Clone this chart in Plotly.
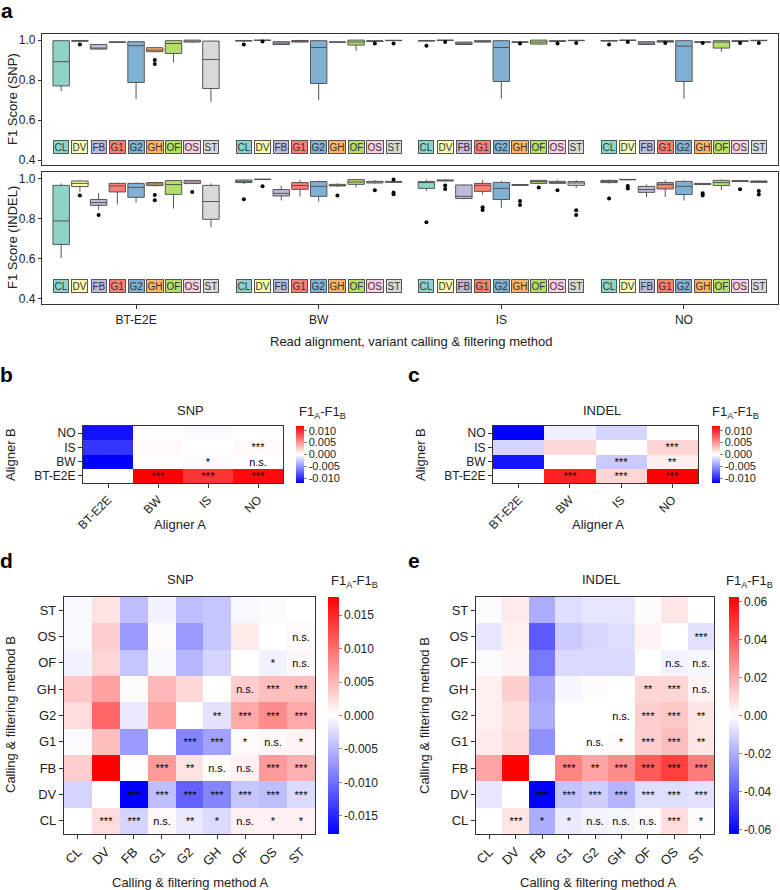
import plotly.graph_objects as go

W, H = 780, 890

methods = ["CL", "DV", "FB", "G1", "G2", "GH", "OF", "OS", "ST"]
colors = ["#8DD3C7", "#FFFFB3", "#BEBADA", "#FB8072", "#80B1D3",
          "#FDB462", "#B3DE69", "#FCCDE5", "#D9D9D9"]
groups = ["BT-E2E", "BW", "IS", "NO"]

# --- panel a: box stats, one row per method, columns = BT-E2E, BW, IS, NO
snp_lo = [[0.745, 0.993, 0.992, 0.993], [0.990, 0.997, 0.997, 0.997], [0.952, 0.976, 0.976, 0.976],
          [0.987, 0.988, 0.988, 0.988], [0.705, 0.700, 0.707, 0.707], [0.938, 0.987, 0.988, 0.988],
          [0.888, 0.945, 0.975, 0.942], [0.985, 0.990, 0.990, 0.990], [0.690, 0.995, 0.995, 0.995]]
snp_q1 = [[0.771, 0.995, 0.995, 0.995], [0.994, 0.998, 0.998, 0.998], [0.955, 0.978, 0.978, 0.978],
          [0.988, 0.990, 0.990, 0.990], [0.788, 0.783, 0.793, 0.793], [0.942, 0.989, 0.989, 0.989],
          [0.933, 0.975, 0.980, 0.960], [0.990, 0.993, 0.993, 0.993], [0.758, 0.997, 0.997, 0.997]]
snp_med = [[0.892, 0.997, 0.997, 0.997], [0.996, 0.999, 0.999, 0.999], [0.957, 0.985, 0.984, 0.985],
           [0.990, 0.995, 0.994, 0.994], [0.972, 0.963, 0.963, 0.970], [0.950, 0.990, 0.990, 0.990],
           [0.983, 0.990, 0.990, 0.990], [0.995, 0.995, 0.995, 0.995], [0.903, 0.998, 0.998, 0.998]]
snp_q3 = [[0.997, 0.998, 0.998, 0.998], [0.998, 1.000, 1.000, 1.000], [0.978, 0.992, 0.990, 0.992],
          [0.991, 0.998, 0.997, 0.997], [0.992, 0.997, 0.997, 0.997], [0.962, 0.991, 0.991, 0.991],
          [0.997, 1.000, 1.000, 0.997], [1.000, 0.997, 0.997, 0.997], [0.995, 0.999, 0.999, 0.999]]
snp_hi = [[0.998, 0.999, 0.999, 0.999], [0.999, 1.000, 1.000, 1.000], [0.980, 0.994, 0.992, 0.994],
          [0.992, 1.000, 0.999, 0.999], [0.995, 0.999, 0.999, 0.999], [0.965, 0.993, 0.993, 0.993],
          [1.000, 1.000, 1.000, 1.000], [1.000, 0.998, 0.998, 0.998], [0.997, 1.000, 1.000, 1.000]]
snp_out = [[[], [0.978], [0.972], [0.978]], [[0.978], [0.993], [0.990], [0.990]], [[], [], [], []],
           [[], [], [], [0.985]], [[], [], [], []], [[0.900, 0.880], [], [0.983], [0.985]],
           [[], [], [], []], [[], [0.983], [0.983], [0.985]], [[], [0.983], [0.985], [0.985]]]

indel_lo = [[0.603, 0.975, 0.940, 0.977], [0.935, 0.995, 0.987, 0.993], [0.845, 0.892, 0.898, 0.910],
            [0.873, 0.912, 0.922, 0.910], [0.882, 0.887, 0.855, 0.892], [0.962, 0.960, 0.965, 0.970],
            [0.852, 0.958, 0.975, 0.945], [0.975, 0.977, 0.975, 0.985], [0.758, 0.980, 0.955, 0.980]]
indel_q1 = [[0.672, 0.982, 0.953, 0.982], [0.962, 0.997, 0.990, 0.996], [0.868, 0.915, 0.902, 0.933],
            [0.935, 0.948, 0.938, 0.950], [0.908, 0.913, 0.897, 0.922], [0.967, 0.965, 0.968, 0.972],
            [0.923, 0.973, 0.978, 0.967], [0.977, 0.980, 0.978, 0.987], [0.798, 0.983, 0.968, 0.983]]
indel_med = [[0.790, 0.988, 0.982, 0.988], [0.978, 0.998, 0.993, 0.997], [0.882, 0.928, 0.913, 0.947],
             [0.965, 0.967, 0.968, 0.972], [0.958, 0.963, 0.953, 0.963], [0.975, 0.968, 0.970, 0.975],
             [0.972, 0.985, 0.987, 0.982], [0.985, 0.985, 0.985, 0.990], [0.887, 0.986, 0.980, 0.987]]
indel_q3 = [[0.968, 0.995, 0.987, 0.993], [0.990, 0.999, 0.995, 0.998], [0.897, 0.947, 0.970, 0.963],
            [0.978, 0.982, 0.978, 0.982], [0.978, 0.987, 0.983, 0.988], [0.982, 0.973, 0.972, 0.978],
            [0.992, 0.997, 0.993, 0.993], [0.993, 0.988, 0.988, 0.992], [0.968, 0.988, 0.987, 0.990]]
indel_hi = [[0.978, 0.997, 0.995, 0.997], [0.993, 1.000, 0.997, 0.999], [0.928, 0.967, 0.973, 0.972],
            [0.982, 0.995, 0.995, 0.993], [0.983, 0.992, 0.990, 0.993], [0.987, 0.978, 0.975, 0.980],
            [0.993, 0.998, 0.995, 0.998], [0.995, 0.995, 0.995, 0.995], [0.978, 0.990, 0.995, 0.993]]
indel_out = [[[], [0.898], [0.783], [0.902]], [[0.917], [0.963], [0.967, 0.950], [0.965, 0.952]],
             [[0.820], [], [], []], [[], [], [0.858, 0.845], []], [[], [], [], []],
             [[0.920, 0.893], [0.917], [0.890, 0.870], [0.928, 0.917]], [[], [], [0.957], []],
             [[0.935], [0.943], [0.943], [0.948]], [[], [0.998, 0.932, 0.923], [0.843, 0.820], [0.940, 0.922]]]

# --- panels b, c: aligner comparison (rows = aligner B bottom->top, cols = aligner A)
aligners = ["BT-E2E", "BW", "IS", "NO"]
b_z = [[0, 0.0120, 0.0095, 0.0115],
       [-0.0120, 0, -0.0003, 0.0000],
       [-0.0095, 0.0003, 0, 0.0003],
       [-0.0112, 0.0000, -0.0003, 0]]
b_sig = [["", "***", "***", "***"], ["", "", "*", "n.s."], ["", "", "", "***"], ["", "", "", ""]]
c_z = [[0, 0.0105, 0.0020, 0.0120],
       [-0.0110, 0, -0.0025, 0.0008],
       [-0.0020, 0.0018, 0, 0.0020],
       [-0.0120, -0.0008, -0.0020, 0]]
c_sig = [["", "***", "***", "***"], ["", "", "***", "**"], ["", "", "", "***"], ["", "", "", ""]]

# --- panels d, e: calling & filtering comparison (x 0.001), rows = method B bottom->top
d_z = [[0, 2.5, -3, 0.5, -1.5, -2.5, 1, 1, 1],
       [-3, 0, -17.7, -4.5, -11, -8.5, -4, -4.5, -2.5],
       [3.5, 17.7, 0, 7, 2, 0.3, 1, 7, 5.5],
       [-0.3, 4.5, -7, 0, -8.5, -6.5, 0.3, 0.5, 0.8],
       [2.5, 10.5, -1.5, 6.5, 0, -2, 6, 8, 6],
       [3.9, 6.5, 0.3, 5, 2.7, 0, 3.5, 4.5, 4.5],
       [-1, 3, -4, -0.5, -5, -3, 0, -1, 0.5],
       [-0.5, 3.5, -7, 0.3, -7, -4, 1.5, 0, 0.3],
       [-0.5, 2, -4.5, -1, -4.5, -4, -0.5, -0.3, 0]]
d_sig = [["", "***", "***", "n.s.", "**", "*", "n.s.", "*", "*"],
         ["", "", "***", "***", "***", "***", "***", "***", "***"],
         ["", "", "", "***", "**", "n.s.", "n.s.", "***", "***"],
         ["", "", "", "", "***", "***", "*", "n.s.", "*"],
         ["", "", "", "", "", "**", "***", "***", "***"],
         ["", "", "", "", "", "", "n.s.", "***", "***"],
         ["", "", "", "", "", "", "", "*", "n.s."],
         ["", "", "", "", "", "", "", "", "n.s."],
         ["", "", "", "", "", "", "", "", ""]]
e_z = [[0, 6, -20, -5, -3, -2, 1, 8, 1],
       [-6, 0, -62, -15, -12, -18, -8, -8, -7],
       [22, 62, 0, 30, 22, 28, 40, 47, 32],
       [5, 9, -27, 0, 0, 1, 12, 16, 6],
       [4, 8, -20, 0, 0, 0, 12, 14, 6],
       [4, 12, -22, -2, 1, 0, 10, 10, 3],
       [-1, 3, -33, -9, -9, -9, 0, -3, -2],
       [-6, 4, -40, -13, -10, -8, 3, 0, -7],
       [-1, 5, -20, -8, -6, -6, 1, 6, 0]]
e_sig = [["", "***", "*", "*", "n.s.", "n.s.", "n.s.", "***", "*"],
         ["", "", "***", "***", "***", "***", "***", "***", "***"],
         ["", "", "", "***", "**", "***", "***", "***", "***"],
         ["", "", "", "", "n.s.", "*", "***", "***", "**"],
         ["", "", "", "", "", "n.s.", "***", "***", "**"],
         ["", "", "", "", "", "", "**", "***", "n.s."],
         ["", "", "", "", "", "", "", "n.s.", "n.s."],
         ["", "", "", "", "", "", "", "", "***"],
         ["", "", "", "", "", "", "", "", ""]]

FONT = "Arial, Liberation Sans, sans-serif"
TXT = "#222222"
EDGE = "#333333"


def px(x):
    return x / W


def py(y):
    return 1 - y / H


fig = go.Figure()

# box plots
step = 0.1025
for panel, (lo, q1, med, q3, hi, out) in enumerate([
        (snp_lo, snp_q1, snp_med, snp_q3, snp_hi, snp_out),
        (indel_lo, indel_q1, indel_med, indel_q3, indel_hi, indel_out)]):
    xa = "x" if panel == 0 else "x2"
    ya = "y" if panel == 0 else "y2"
    for i, m in enumerate(methods):
        pos = [g + (i - 4) * step for g in range(len(groups))]
        fig.add_trace(go.Box(
            x=pos, q1=q1[i], median=med[i], q3=q3[i], lowerfence=lo[i], upperfence=hi[i],
            width=0.09, whiskerwidth=0, boxpoints=False, fillcolor=colors[i],
            line=dict(color="#555555", width=1), xaxis=xa, yaxis=ya, showlegend=False, name=m))
        ox, oy = [], []
        for g in range(len(groups)):
            for v in out[i][g]:
                ox.append(pos[g])
                oy.append(v)
        if ox:
            fig.add_trace(go.Scatter(x=ox, y=oy, mode="markers", xaxis=xa, yaxis=ya,
                                     marker=dict(color="black", size=4), showlegend=False))
        for g in range(len(groups)):
            fig.add_annotation(x=pos[g], y=0.466, xref=xa, yref=ya, text=m, showarrow=False,
                               bgcolor=colors[i], bordercolor="#555555", borderwidth=1, borderpad=0.5,
                               font=dict(size=10, color="#333333", family=FONT))

scale = [[0, "#0000FF"], [0.5, "#FFFFFF"], [1, "#FF0000"]]


def cbar(x0, y0, y1, thick, tickvals, fmt, fsize):
    return dict(x=px(x0), xanchor="left", y=py(y0), yanchor="top", len=y1 - y0, lenmode="pixels",
                thickness=thick, xpad=0, ypad=0, outlinewidth=0, ticks="outside", ticklen=3,
                tickcolor="#888888", tickvals=tickvals, ticktext=[fmt.format(v) for v in tickvals],
                tickfont=dict(size=fsize, color=TXT, family=FONT))


small_ticks = [-0.010, -0.005, 0.0, 0.005, 0.010]
d_ticks = [-0.015, -0.010, -0.005, 0.0, 0.005, 0.010, 0.015]
e_ticks = [-0.06, -0.04, -0.02, 0.0, 0.02, 0.04, 0.06]

heat = [
    ("x3", "y3", aligners, b_z, b_sig, 0.012, 1.0, (296, 426, 483, 8, 11), small_ticks, "{:.3f}"),
    ("x4", "y4", aligners, c_z, c_sig, 0.012, 1.0, (712, 426, 483, 8, 11), small_ticks, "{:.3f}"),
    ("x5", "y5", methods, d_z, d_sig, 0.0177, 0.001, (328, 597, 834, 11, 12), d_ticks, "{:.3f}"),
    ("x6", "y6", methods, e_z, e_sig, 0.0623, 0.001, (729, 597, 834, 10, 12), e_ticks, "{:.2f}"),
]
for xa, ya, cats, z, sig, zmax, unit, (cx, cy0, cy1, th, fs), tv, fmt in heat:
    fig.add_trace(go.Heatmap(
        x=cats, y=cats, z=[[v * unit for v in row] for row in z], text=sig, texttemplate="%{text}",
        textfont=dict(size=11, color="black", family=FONT), colorscale=scale, zmin=-zmax, zmax=zmax,
        xaxis=xa, yaxis=ya, colorbar=cbar(cx, cy0, cy1, th, tv, fmt, fs), hoverinfo="skip"))

axis_font = dict(size=12, color=TXT, family=FONT)
big_font = dict(size=13, color=TXT, family=FONT)
frame = dict(showline=True, mirror=True, linecolor=EDGE, linewidth=1.2, showgrid=False,
             zeroline=False, automargin=False)
layout_axes = dict(
    xaxis=dict(domain=[px(42), px(778)], range=[-0.515, 3.515], anchor="y", showticklabels=False,
               ticks="", **frame),
    yaxis=dict(domain=[py(165), py(33.7)], range=[0.375, 1.032], anchor="x",
               tickvals=[0.4, 0.6, 0.8, 1.0], ticktext=["0.4", "0.6", "0.8", "1.0"], ticks="outside",
               ticklen=3, tickcolor=EDGE, tickfont=axis_font, **frame),
    xaxis2=dict(domain=[px(42), px(778)], range=[-0.515, 3.515], anchor="y2",
                tickvals=list(range(len(groups))), ticktext=groups, ticks="outside", ticklen=4,
                tickcolor=EDGE, tickfont=axis_font, **frame),
    yaxis2=dict(domain=[py(304.3), py(172)], range=[0.372, 1.035], anchor="x2",
                tickvals=[0.4, 0.6, 0.8, 1.0], ticktext=["0.4", "0.6", "0.8", "1.0"], ticks="outside",
                ticklen=3, tickcolor=EDGE, tickfont=axis_font, **frame),
)
heat_dom = [("3", (83, 283), (426, 483), axis_font), ("4", (493, 698), (426, 483), axis_font),
            ("5", (64, 315), (597, 834), big_font), ("6", (476, 714), (597, 834), big_font)]
for k, (xl, xr), (yt, yb), tf in heat_dom:
    layout_axes["xaxis" + k] = dict(domain=[px(xl), px(xr)], anchor="y" + k, tickangle=-45,
                                    ticks="outside", ticklen=4, tickcolor=EDGE, tickfont=tf,
                                    **frame)
    layout_axes["yaxis" + k] = dict(domain=[py(yb), py(yt)], anchor="x" + k, ticks="outside",
                                    ticklen=4, tickcolor=EDGE, tickfont=tf, **frame)

fig.update_layout(template="none", width=W, height=H, margin=dict(l=0, r=0, t=0, b=0),
                  paper_bgcolor="white", plot_bgcolor="white", font=dict(family=FONT, color=TXT),
                  showlegend=False, **layout_axes)


def note(x, y, text, size=13, angle=0, bold=False):
    fig.add_annotation(x=px(x), y=py(y), xref="paper", yref="paper", text=text, showarrow=False,
                       textangle=angle, xanchor="center", yanchor="middle",
                       font=dict(size=size, color="black" if bold else TXT, family=FONT,
                                 weight="bold" if bold else "normal"))


for lab, x, y in [("a", 7, 11), ("b", 7, 374), ("c", 414, 374), ("d", 7, 560), ("e", 414, 560)]:
    note(x, y, lab, size=21, bold=True)

note(12, 99, "F1 Score (SNP)", angle=-90)
note(12, 238, "F1 Score (INDEL)", angle=-90)
note(411, 342, "Read alignment, variant calling & filtering method")

cb_title = "F1<sub>A</sub>-F1<sub>B</sub>"
note(190, 410, "SNP")
note(602, 410, "INDEL")
note(322, 412, cb_title)
note(735, 412, cb_title)
note(10, 455, "Aligner B", angle=-90)
note(420, 455, "Aligner B", angle=-90)
note(180, 524, "Aligner A")
note(598, 524, "Aligner A")

note(180, 579, "SNP")
note(601, 579, "INDEL")
note(354, 581, cb_title)
note(749, 581, cb_title)
note(10, 715, "Calling & filtering method B", angle=-90)
note(424, 715, "Calling & filtering method B", angle=-90)
note(190, 882, "Calling & filtering method A")
note(598, 882, "Calling & filtering method A")

# the page's default body margin would shift the figure by 8px
fig.write_html("out.html", config={"displayModeBar": False},
               post_script="document.body.style.margin='0';")
